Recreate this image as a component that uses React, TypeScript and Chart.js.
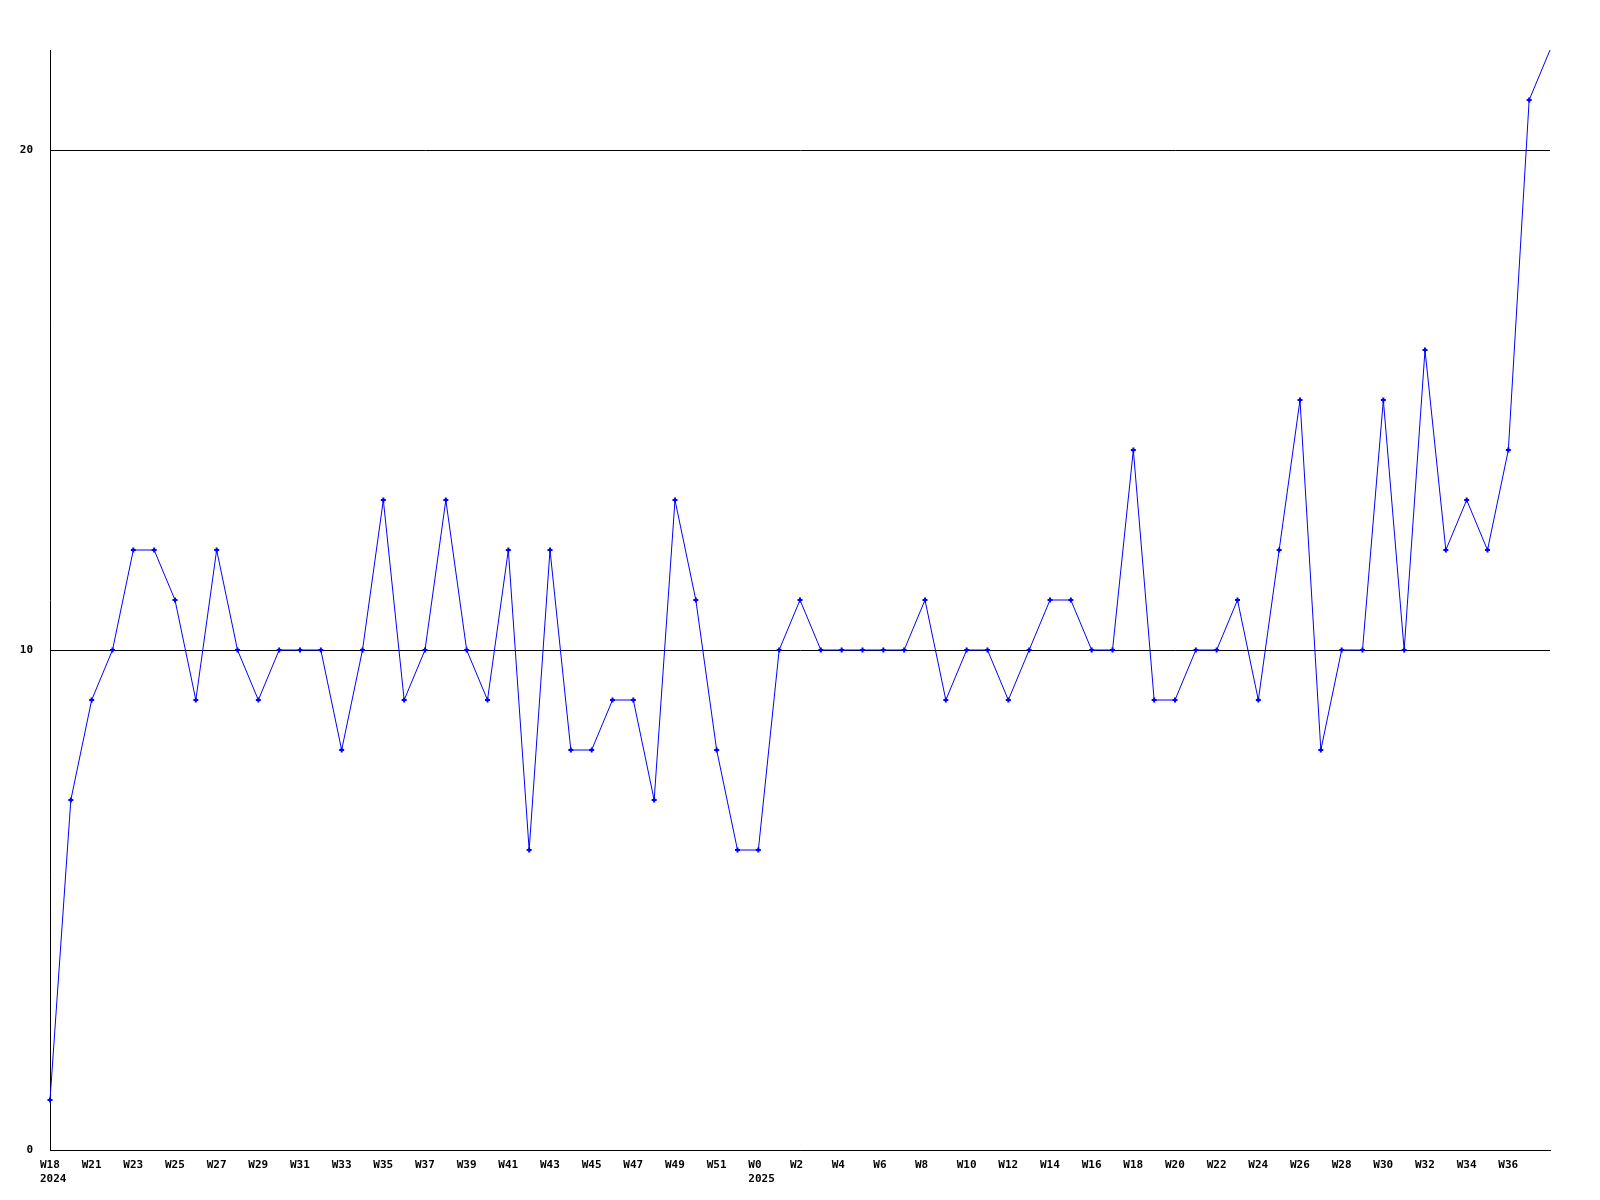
import React, { useEffect, useRef } from "react";
import { Chart, registerables } from "chart.js";

Chart.register(...registerables);

const weekLabels: string[] = [
  "W18", "W20", "W21", "W22", "W23", "W24", "W25", "W26", "W27", "W28",
  "W29", "W30", "W31", "W32", "W33", "W34", "W35", "W36", "W37", "W38",
  "W39", "W40", "W41", "W42", "W43", "W44", "W45", "W46", "W47", "W48",
  "W49", "W50", "W51", "W52", "W0", "W1", "W2", "W3", "W4", "W5",
  "W6", "W7", "W8", "W9", "W10", "W11", "W12", "W13", "W14", "W15",
  "W16", "W17", "W18", "W19", "W20", "W21", "W22", "W23", "W24", "W25",
  "W26", "W27", "W28", "W29", "W30", "W31", "W32", "W33", "W34", "W35",
  "W36", "W37", "W38",
];

const yearLabels: Record<number, string> = { 0: "2024", 34: "2025" };

const values: number[] = [
  1, 7, 9, 10, 12, 12, 11, 9, 12, 10,
  9, 10, 10, 10, 8, 10, 13, 9, 10, 13,
  10, 9, 12, 6, 12, 8, 8, 9, 9, 7,
  13, 11, 8, 6, 6, 10, 11, 10, 10, 10,
  10, 10, 11, 9, 10, 10, 9, 10, 11, 11,
  10, 10, 14, 9, 9, 10, 10, 11, 9, 12,
  15, 8, 10, 10, 15, 10, 16, 12, 13, 12,
  14, 21, 22,
];

const yTicks: number[] = [0, 10, 20];

export default function App() {
  const ref = useRef<HTMLCanvasElement | null>(null);

  useEffect(() => {
    document.body.style.margin = "0";
    const canvas = ref.current;
    if (!canvas) return;
    const font = { family: "'DejaVu Sans Mono', monospace", size: 11, weight: "bold" as const };
    const last = values.length - 1;
    const chart = new Chart(canvas, {
      type: "line",
      data: {
        labels: weekLabels,
        datasets: [
          {
            data: values,
            borderColor: "#0000ff",
            backgroundColor: "#0000ff",
            borderWidth: 1,
            tension: 0,
            pointStyle: "cross",
            pointRadius: (ctx: any) => (ctx.dataIndex === last ? 0 : 2.5),
            pointBorderWidth: 2,
            pointBorderColor: "#0000ff",
            pointBackgroundColor: "#0000ff",
            fill: false,
          },
        ],
      },
      options: {
        animation: false,
        responsive: false,
        maintainAspectRatio: false,
        layout: { padding: { left: 0, top: 50, right: 50, bottom: 0 } },
        plugins: { legend: { display: false }, tooltip: { enabled: false } },
        scales: {
          x: {
            type: "category",
            offset: false,
            grid: { display: false, drawTicks: false },
            border: { display: true, color: "#000000", width: 1 },
            afterFit: (scale: any) => {
              scale.height = 50;
            },
            ticks: {
              autoSkip: false,
              maxRotation: 0,
              minRotation: 0,
              padding: 9,
              align: "start",
              labelOffset: -10,
              color: "#000000",
              font,
              callback: (_v: any, i: number) => {
                if (i === last || i === 1) return "";
                if (i !== 0 && i % 2 !== 0) return "";
                const y = yearLabels[i];
                return y ? [weekLabels[i], y] : weekLabels[i];
              },
            },
          },
          y: {
            min: 0,
            max: 22,
            grid: { color: "#000000", lineWidth: 1, drawTicks: false },
            border: { display: true, color: "#000000", width: 1 },
            afterFit: (scale: any) => {
              scale.width = 50;
            },
            afterBuildTicks: (scale: any) => {
              scale.ticks = yTicks.map((v) => ({ value: v }));
            },
            ticks: {
              padding: 17,
              color: "#000000",
              font,
            },
          },
        },
      },
    });
    return () => chart.destroy();
  }, []);

  return (
    <div style={{ position: "absolute", left: 0, top: 0, width: 1600, height: 1200, background: "#ffffff" }}>
      <canvas ref={ref} width={1600} height={1200} style={{ width: 1600, height: 1200 }} />
    </div>
  );
}
